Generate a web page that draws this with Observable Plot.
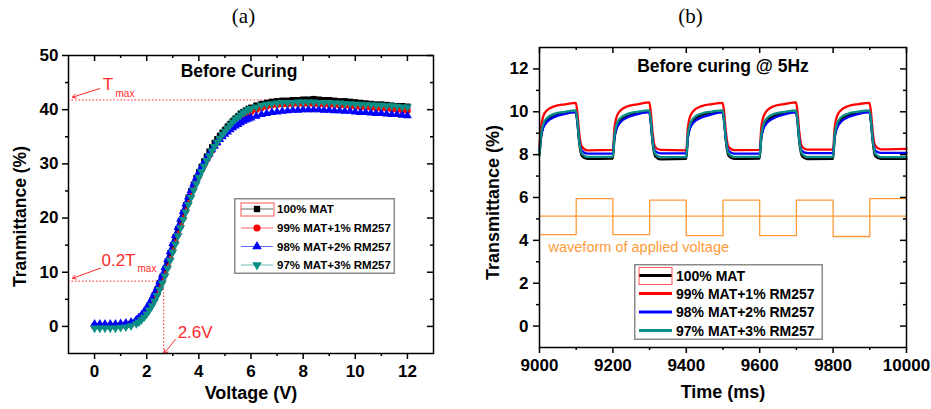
<!DOCTYPE html>
<html><head><meta charset="utf-8">
<script src="https://cdn.jsdelivr.net/npm/d3@7"></script>
<script src="https://cdn.jsdelivr.net/npm/@observablehq/plot@0.6"></script>
<style>
html,body{margin:0;padding:0;background:#fff;}
#wrap{position:relative;width:931px;height:409px;overflow:hidden;font-family:"Liberation Sans",Arial,sans-serif;}
.panel{position:absolute;top:0;}
</style></head><body><div id="wrap"></div>
<script>
// ---------------- Panel (a): transmittance vs voltage ----------------
const voltage = [0,0.2,0.4,0.6,0.8,1.0,1.2,1.4,1.6,
 1.7,1.8,1.9,2.0,2.1,2.2,2.3,2.4,2.5,2.6,2.7,2.8,2.9,3.0,3.1,3.2,3.3,3.4,3.5,3.6,3.7,3.8,3.9,4.0,4.1,4.2,4.3,4.4,4.5,4.6,4.7,4.8,4.9,5.0,5.1,5.2,5.3,5.4,5.5,5.6,5.7,5.8,5.9,6.0,
 6.2,6.4,6.6,6.8,7.0,7.2,7.4,7.6,7.8,8.0,8.2,8.4,8.6,8.8,9.0,9.2,9.4,9.6,9.8,10.0,10.2,10.4,10.6,10.8,11.0,11.2,11.4,11.6,11.8,12.0];
const mat100 = [0.1,0.1,0.1,0.1,0.1,0.2,0.3,0.5,0.9,
 1.3,1.8,2.4,3.1,3.9,4.8,5.8,6.8,8.0,9.2,10.6,12.0,13.5,15.0,16.5,18.0,19.5,21.0,22.4,23.8,25.0,26.2,27.4,28.5,29.5,30.5,31.4,32.3,33.1,33.9,34.6,35.2,35.8,36.3,36.9,37.4,37.9,38.4,38.8,39.3,39.6,39.9,40.2,40.4,
 40.8,41.1,41.3,41.5,41.6,41.7,41.7,41.8,41.8,41.9,41.9,42.0,41.9,41.8,41.8,41.7,41.6,41.6,41.5,41.4,41.3,41.2,41.1,41.0,41.0,40.9,40.8,40.7,40.7,40.6];
const mat99 = [0.0,0.0,0.0,0.0,0.0,0.1,0.2,0.4,0.8,
 1.1,1.5,2.0,2.6,3.3,4.1,5.0,6.0,7.1,8.3,9.6,11.0,12.5,14.0,15.5,17.0,18.5,20.0,21.4,22.8,24.1,25.4,26.6,27.7,28.8,29.8,30.7,31.6,32.4,33.2,33.9,34.6,35.2,35.8,36.3,36.8,37.3,37.7,38.1,38.5,38.8,39.1,39.4,39.6,
 40.0,40.3,40.6,40.8,40.9,41.0,41.0,41.1,41.1,41.1,41.1,41.1,41.0,41.0,40.9,40.9,40.8,40.8,40.7,40.6,40.5,40.5,40.4,40.3,40.2,40.2,40.1,40.0,39.9,39.8];
const mat98 = [0.4,0.4,0.4,0.4,0.4,0.5,0.6,0.8,1.2,
 1.6,2.1,2.7,3.4,4.2,5.1,6.1,7.1,8.3,9.5,10.9,12.3,13.8,15.3,16.8,18.3,19.8,21.2,22.6,23.9,25.1,26.3,27.4,28.4,29.4,30.3,31.1,31.9,32.6,33.3,33.9,34.5,35.0,35.5,35.9,36.3,36.7,37.0,37.3,37.6,37.9,38.1,38.3,38.5,
 38.8,39.1,39.3,39.5,39.6,39.7,39.8,39.9,39.9,40.0,40.0,40.0,40.0,39.9,39.9,39.8,39.8,39.7,39.7,39.6,39.5,39.5,39.4,39.3,39.3,39.2,39.1,39.1,39.0,38.9];
const mat97 = [-0.3,-0.3,-0.3,-0.3,-0.3,-0.2,-0.1,0.1,0.5,
 0.8,1.2,1.7,2.3,3.0,3.8,4.7,5.7,6.8,8.0,9.3,10.7,12.2,13.7,15.2,16.7,18.2,19.7,21.1,22.5,23.8,25.1,26.3,27.5,28.6,29.6,30.6,31.5,32.4,33.2,34.0,34.7,35.4,36.0,36.6,37.2,37.7,38.2,38.6,39.0,39.4,39.7,40.0,40.2,
 40.5,40.8,41.0,41.1,41.2,41.3,41.3,41.3,41.4,41.4,41.4,41.4,41.3,41.3,41.3,41.2,41.2,41.1,41.1,41.0,41.0,40.9,40.9,40.8,40.8,40.7,40.7,40.6,40.5,40.5];
const tmax = 41.8;              // T max level (%)
const thresholdVoltage = 2.65;  // voltage at 0.2 Tmax
const xTicksA = [0,2,4,6,8,10,12];
const xMinorA = [1,3,5,7,9,11];
const yTicksA = [0,10,20,30,40,50];
const yMinorA = [5,15,25,35,45];

// ---------------- Panel (b): transmittance vs time ----------------
const timeMs = [
 9000,9004,9010,9020,9040,9070,9099,9103,9108,9115,9130,
 9200,9204,9210,9220,9240,9270,9299,9303,9308,9315,9330,
 9400,9404,9410,9420,9440,9470,9499,9503,9508,9515,9530,
 9600,9604,9610,9620,9640,9670,9699,9703,9708,9715,9730,
 9800,9804,9810,9820,9840,9870,9899,9903,9908,9915,9930,
 10000];
const resp100 = [
 8.00,8.75,9.28,9.60,9.82,9.94,10.00,9.55,8.60,7.95,7.80,
 7.82,8.70,9.25,9.58,9.80,9.95,10.02,9.55,8.58,7.93,7.78,
 7.80,8.72,9.27,9.60,9.83,9.96,10.02,9.57,8.60,7.95,7.80,
 7.82,8.70,9.25,9.58,9.82,9.95,10.00,9.55,8.58,7.94,7.79,
 7.80,8.72,9.26,9.60,9.83,9.96,10.02,9.56,8.60,7.93,7.80,
 7.80];
const resp99 = [
 8.40,9.25,9.78,10.06,10.25,10.35,10.42,10.00,9.05,8.38,8.20,
 8.22,9.20,9.75,10.05,10.26,10.36,10.44,10.02,9.05,8.36,8.22,
 8.20,9.22,9.76,10.05,10.25,10.36,10.42,10.00,9.04,8.37,8.21,
 8.22,9.20,9.75,10.06,10.27,10.37,10.44,10.01,9.05,8.38,8.23,
 8.23,9.22,9.76,10.05,10.26,10.36,10.42,10.02,9.06,8.40,8.25,
 8.27];
const resp98 = [
 8.20,8.85,9.25,9.52,9.75,9.90,9.98,9.55,8.70,8.18,8.05,
 8.05,8.78,9.20,9.50,9.74,9.90,9.98,9.56,8.70,8.17,8.06,
 8.06,8.80,9.22,9.50,9.72,9.88,9.97,9.55,8.72,8.18,8.05,
 8.05,8.78,9.20,9.48,9.72,9.89,9.98,9.56,8.70,8.18,8.07,
 8.07,8.80,9.21,9.50,9.74,9.90,9.98,9.57,8.72,8.19,8.08,
 8.08];
const resp97 = [
 7.95,8.90,9.42,9.70,9.90,10.00,10.06,9.60,8.68,8.05,7.90,
 7.90,8.86,9.40,9.70,9.90,10.01,10.07,9.62,8.66,8.04,7.88,
 7.88,8.86,9.41,9.71,9.91,10.01,10.06,9.60,8.66,8.05,7.90,
 7.90,8.85,9.40,9.70,9.90,10.00,10.06,9.61,8.67,8.04,7.89,
 7.89,8.86,9.41,9.71,9.91,10.01,10.07,9.62,8.68,8.05,7.88,
 7.88];
const waveTime  = [9000,9100,9200,9300,9400,9500,9600,9700,9800,9900,10000];
const waveLevel = [4.27,5.95,4.27,5.88,4.22,5.88,4.22,5.88,4.18,5.95,5.95];
const waveMid = 5.13;
const xTicksB = [9000,9200,9400,9600,9800,10000];
const xMinorB = [9100,9300,9500,9700,9900];
const yTicksB = [0,2,4,6,8,10,12];
const yMinorB = [1,3,5,7,9,11];

const seriesNames = ["100% MAT","99% MAT+1% RM257","98% MAT+2% RM257","97% MAT+3% RM257"];
const seriesColors = ["#000000","#ff0000","#0000ff","#0a8f86"];
const annoRed = "#ff2a2a";
const waveColor = "#ff9a3a";

// custom downward triangle symbol
const triangleDown = {
  draw(context, size) {
    const y = -Math.sqrt(size / (Math.sqrt(3) * 3));
    context.moveTo(0, -y * 2);
    context.lineTo(-Math.sqrt(3) * y, y);
    context.lineTo(Math.sqrt(3) * y, y);
    context.closePath();
  }
};
const symbolsA = ["square", "circle", "triangle", triangleDown];

const font = "'Liberation Sans', Arial, sans-serif";
const serif = "'Liberation Serif', 'Times New Roman', serif";
const wrap = document.getElementById("wrap");

// ---------- Build panel (a) ----------
const A = {w: 465, h: 409, ml: 68, mr: 32, mt: 55, mb: 56};
const fwA = A.w - A.ml - A.mr, fhA = A.h - A.mt - A.mb;
const valuesA = [mat100, mat99, mat98, mat97];
const tablesA = valuesA.map(vals => voltage.map((v, i) => ({v, t: vals[i]})));

const marksA = [];
tablesA.forEach((tab, i) => {
  marksA.push(Plot.line(tab, {x: "v", y: "t", stroke: seriesColors[i], strokeWidth: 1}));
  marksA.push(Plot.dot(tab, {x: "v", y: "t", symbol: symbolsA[i], r: 3.3, fill: seriesColors[i], stroke: "none"}));
});

const plotA = Plot.plot({
  width: A.w, height: A.h,
  marginLeft: A.ml, marginRight: A.mr, marginTop: A.mt, marginBottom: A.mb,
  x: {domain: [-1, 13]},
  y: {domain: [-5, 50]},
  style: {fontFamily: font, fontSize: "17px", fontWeight: "bold", background: "transparent", overflow: "visible"},
  marks: [
    // annotation guide lines
    Plot.ruleY([tmax], {x1: -1, x2: 8.3, stroke: annoRed, strokeWidth: 1, strokeDasharray: "1.5,2"}),
    Plot.ruleY([0.2 * tmax], {x1: -1, x2: thresholdVoltage, stroke: annoRed, strokeWidth: 1, strokeDasharray: "1.5,2"}),
    Plot.ruleX([thresholdVoltage], {y1: -5, y2: 0.2 * tmax, stroke: annoRed, strokeWidth: 1, strokeDasharray: "1.5,2"}),
    ...marksA,
    Plot.arrow([
      {x1: 0.2, y1: tmax + 2.1, x2: -0.85, y2: tmax + 0.5},
      {x1: 0.23, y1: 0.2 * tmax + 2.4, x2: -0.85, y2: 0.2 * tmax + 0.5},
      {x1: 3.1, y1: -2.4, x2: thresholdVoltage + 0.02, y2: -5}
    ], {x1: "x1", y1: "y1", x2: "x2", y2: "y2", stroke: annoRed, strokeWidth: 1, headLength: 6}),
    Plot.text([tmax], {x: -1, y: d => d, text: () => "T", dx: 39.5, dy: -15, fill: annoRed, fontSize: 17, fontWeight: "normal"}),
    Plot.text([tmax], {x: -1, y: d => d, text: () => "max", dx: 47, dy: -6, textAnchor: "start", fill: annoRed, fontSize: 10, fontWeight: "normal"}),
    Plot.text([0.2 * tmax], {x: -1, y: d => d, text: () => "0.2T", dx: 50, dy: -21, fill: annoRed, fontSize: 17, fontWeight: "normal"}),
    Plot.text([0.2 * tmax], {x: -1, y: d => d, text: () => "max", dx: 69, dy: -12, textAnchor: "start", fill: annoRed, fontSize: 10, fontWeight: "normal"}),
    Plot.text([thresholdVoltage], {x: d => d, y: 0, text: () => "2.6V", dx: 14, dy: 6, textAnchor: "start", fill: annoRed, fontSize: 17, fontWeight: "normal"}),
    // titles
    Plot.text(["Before Curing"], {frameAnchor: "top", dx: -12, dy: 16, lineAnchor: "middle", fontSize: 17.5, fontWeight: "bold"}),
    Plot.text(["(a)"], {frameAnchor: "top", dx: -7.5, dy: -39, lineAnchor: "middle", fontSize: 21, fontWeight: "normal", fontFamily: serif}),
    Plot.text(["Voltage (V)"], {frameAnchor: "bottom", dy: 40, lineAnchor: "middle", fontSize: 18, fontWeight: "bold"}),
    Plot.text(["Tranmittance (%)"], {frameAnchor: "left", dx: -48, dy: 12, rotate: -90, textAnchor: "middle", lineAnchor: "middle", fontSize: 17.5, fontWeight: "bold"}),
    // axes
    Plot.frame({stroke: "#000", strokeWidth: 1.5}),
    Plot.axisX(xTicksA, {anchor: "bottom", tickSize: 6, tickPadding: 5, strokeWidth: 1.5, tickFormat: d => `${d}`, label: null}),
    Plot.axisX(xMinorA, {anchor: "bottom", tickSize: 3, strokeWidth: 1.5, tickFormat: () => "", label: null}),
    Plot.axisY(yTicksA, {anchor: "left", tickSize: 6, tickPadding: 4, strokeWidth: 1.5, tickFormat: d => `${d}`, label: null}),
    Plot.axisY(yMinorA, {anchor: "left", tickSize: 3, strokeWidth: 1.5, tickFormat: () => "", label: null}),
    Plot.tickX(xTicksA, {insetBottom: fhA - 6, strokeWidth: 1.5}),
    Plot.tickX(xMinorA, {insetBottom: fhA - 3, strokeWidth: 1.5}),
    Plot.tickY(yTicksA, {insetLeft: fwA - 6, strokeWidth: 1.5}),
    Plot.tickY(yMinorA, {insetLeft: fwA - 3, strokeWidth: 1.5})
  ]
});
plotA.classList.add("panel");
plotA.style.left = "0px";
wrap.appendChild(plotA);

// ---------- Build panel (b) ----------
const B = {w: 466, h: 409, ml: 74, mr: 25, mt: 47, mb: 62};
const fwB = B.w - B.ml - B.mr, fhB = B.h - B.mt - B.mb;
const valuesB = [resp100, resp99, resp98, resp97];
const tablesB = valuesB.map(vals => timeMs.map((t, i) => ({t, v: vals[i]})));
const waveTable = waveTime.map((t, i) => ({t, v: waveLevel[i]}));

const plotB = Plot.plot({
  width: B.w, height: B.h,
  marginLeft: B.ml, marginRight: B.mr, marginTop: B.mt, marginBottom: B.mb,
  x: {domain: [9000, 10000]},
  y: {domain: [-1, 13]},
  style: {fontFamily: font, fontSize: "17px", fontWeight: "bold", background: "transparent", overflow: "visible"},
  marks: [
    Plot.ruleY([waveMid], {stroke: waveColor, strokeWidth: 1.3}),
    Plot.line(waveTable, {x: "t", y: "v", curve: "step-after", stroke: waveColor, strokeWidth: 1.3}),
    ...tablesB.map((tab, i) => Plot.line(tab, {x: "t", y: "v", curve: "monotone-x", stroke: seriesColors[i], strokeWidth: 2.3})),
    Plot.text(["waveform of applied voltage"], {frameAnchor: "top-left", dx: 9, dy: 200, textAnchor: "start", lineAnchor: "middle", fill: waveColor, fontSize: 14.5, fontWeight: "normal"}),
    Plot.text(["Before curing @ 5Hz"], {frameAnchor: "top", dx: 0, dy: 19, lineAnchor: "middle", fontSize: 17.5, fontWeight: "bold"}),
    Plot.text(["(b)"], {frameAnchor: "top", dx: -32.5, dy: -31, lineAnchor: "middle", fontSize: 21, fontWeight: "normal", fontFamily: serif}),
    Plot.text(["Time (ms)"], {frameAnchor: "bottom", dy: 45, lineAnchor: "middle", fontSize: 18, fontWeight: "bold"}),
    Plot.text(["Transmittance (%)"], {frameAnchor: "left", dx: -46, dy: 5, rotate: -90, textAnchor: "middle", lineAnchor: "middle", fontSize: 18, fontWeight: "bold"}),
    Plot.frame({stroke: "#000", strokeWidth: 1.5}),
    Plot.axisX(xTicksB, {anchor: "bottom", tickSize: 6, tickPadding: 5, strokeWidth: 1.5, tickFormat: d => `${d}`, label: null}),
    Plot.axisX(xMinorB, {anchor: "bottom", tickSize: 3, strokeWidth: 1.5, tickFormat: () => "", label: null}),
    Plot.axisY(yTicksB, {anchor: "left", tickSize: 6, tickPadding: 5, strokeWidth: 1.5, tickFormat: d => `${d}`, label: null}),
    Plot.axisY(yMinorB, {anchor: "left", tickSize: 3, strokeWidth: 1.5, tickFormat: () => "", label: null}),
    Plot.tickX(xTicksB, {insetBottom: fhB - 6, strokeWidth: 1.5}),
    Plot.tickX(xMinorB, {insetBottom: fhB - 3, strokeWidth: 1.5}),
    Plot.tickY(yTicksB, {insetLeft: fwB - 6, strokeWidth: 1.5}),
    Plot.tickY(yMinorB, {insetLeft: fwB - 3, strokeWidth: 1.5})
  ]
});
plotB.classList.add("panel");
plotB.style.left = "465px";
wrap.appendChild(plotB);

// ---------- Legends (overlay boxes) ----------
function legend({left, top, width, height, rows, lineX1, lineX2, textX, fontSize, lineWidth, markers, selRect}) {
  const svg = d3.select(wrap).append("svg")
    .attr("width", width).attr("height", height)
    .style("position", "absolute").style("left", left + "px").style("top", top + "px");
  svg.append("rect").attr("x", 0.75).attr("y", 0.75).attr("width", width - 1.5).attr("height", height - 1.5)
    .attr("fill", "#fff").attr("stroke", "#8a8a8a").attr("stroke-width", 1.5);
  seriesNames.forEach((name, i) => {
    const y = rows[i];
    svg.append("line").attr("x1", lineX1).attr("x2", lineX2).attr("y1", y).attr("y2", y)
      .attr("stroke", seriesColors[i]).attr("stroke-width", lineWidth).attr("stroke-opacity", markers ? 0.6 : 1);
    if (markers) {
      const sym = [d3.symbolSquare, d3.symbolCircle, d3.symbolTriangle, triangleDown][i];
      svg.append("path").attr("d", d3.symbol(sym, 40)()).attr("transform", `translate(${(lineX1 + lineX2) / 2},${y})`)
        .attr("fill", seriesColors[i]);
    }
    svg.append("text").attr("x", textX).attr("y", y).attr("dy", "0.36em")
      .style("font-family", font).style("font-weight", "bold").style("font-size", fontSize + "px")
      .text(name);
  });
  svg.append("rect").attr("x", selRect[0]).attr("y", selRect[1]).attr("width", selRect[2]).attr("height", selRect[3])
    .attr("fill", "none").attr("stroke", "#ff5555").attr("stroke-width", 1);
}
legend({left: 234, top: 198, width: 161, height: 76, rows: [11, 30, 48.5, 67], lineX1: 7, lineX2: 39,
  textX: 43, fontSize: 11.5, lineWidth: 1, markers: true, selRect: [7, 5, 33, 13]});
legend({left: 634, top: 264, width: 189, height: 76, rows: [11.5, 29.5, 48, 66.5], lineX1: 5, lineX2: 38,
  textX: 42, fontSize: 14, lineWidth: 3, markers: false, selRect: [5, 3.5, 33, 17]});
</script></body></html>
